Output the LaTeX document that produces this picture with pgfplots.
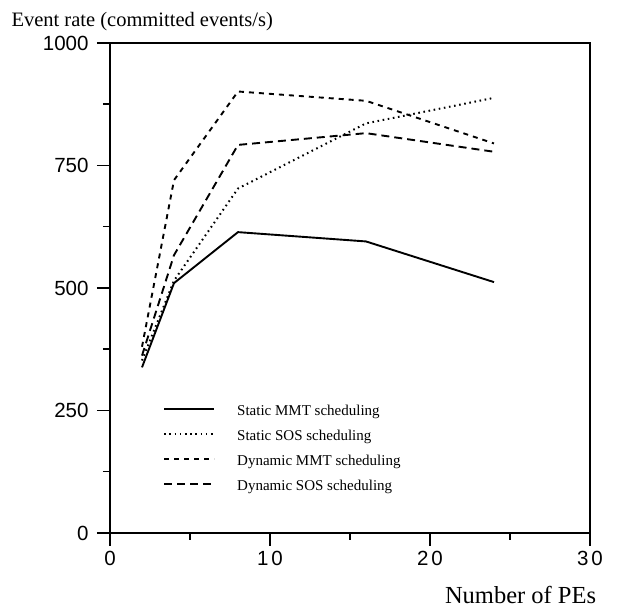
\documentclass[border=0pt]{standalone}
\usepackage{fontspec}
\setmainfont{Liberation Serif}
\setsansfont{Liberation Sans}
\usepackage{pgfplots}
\pgfplotsset{compat=1.18}

\begin{document}
\begin{tikzpicture}
\begin{axis}[
  scale only axis,
  width=480pt, height=490pt,
  at={(0pt,0pt)}, anchor=south west,
  xmin=0, xmax=30, ymin=0, ymax=1000,
  axis line style={line width=1.6pt},
  xtick={0,10,20,30},
  xticklabels={0,1\hspace{3pt}0,2\hspace{3pt}0,3\hspace{3pt}0},
  ytick={0,250,500,750,1000},
  minor x tick num=1, minor y tick num=1,
  tick pos=left, tick align=outside,
  major tick length=13pt, minor tick length=7pt,
  every tick/.style={black, line width=1.5pt},
  /pgf/number format/assume math mode=true,
  /pgf/number format/1000 sep={},
  ticklabel style={font=\sffamily\fontsize{20.5}{22}\selectfont},
  yticklabel style={xshift=-5pt},
  xticklabel style={yshift=-2pt},
  ylabel={Event rate (committed events/s)},
  every axis y label/.style={at={(axis description cs:-0.2125,1.0327)}, anchor=base west, font=\fontsize{20.5}{22}\selectfont},
  xlabel={Number of PEs},
  every axis x label/.style={at={(axis description cs:1.02,-0.1429)}, anchor=base east, font=\fontsize{24.5}{26}\selectfont},
  legend style={draw=none, fill=none, inner sep=0pt, row sep=11pt, column sep=22pt,
    at={(axis description cs:0.1104,0.2612)}, anchor=north west,
    font=\fontsize{15}{15}\selectfont,
    nodes={inner sep=0pt, text height=10.5pt, text depth=3.5pt}},
  legend cell align=left,
  legend image code/.code={\draw[#1] (0pt,3.5pt) -- (50pt,3.5pt);},
]
% Static MMT scheduling
\addplot[black, line width=1.9pt] coordinates {(2,338) (4,510) (8,614) (16,595) (24,512)};
\addlegendentry{Static MMT scheduling}
% Static SOS scheduling
\addplot[black, line width=2pt, dash pattern=on 1.6pt off 3.6pt] coordinates {(2,352) (4,515) (8,703) (16,836) (24,888)};
\addlegendentry{Static SOS scheduling}
% Dynamic MMT scheduling
\addplot[black, line width=1.9pt, dash pattern=on 5pt off 5pt] coordinates {(2,380) (4,720) (8,901) (16,882) (24,795)};
\addlegendentry{Dynamic MMT scheduling}
% Dynamic SOS scheduling
\addplot[black, line width=1.9pt, dash pattern=on 8pt off 5pt] coordinates {(2,362) (4,567) (8,792) (16,816) (24,778)};
\addlegendentry{Dynamic SOS scheduling}
\end{axis}
\useasboundingbox (-110pt,-76pt) rectangle (509pt,533pt);
\end{tikzpicture}
\end{document}
